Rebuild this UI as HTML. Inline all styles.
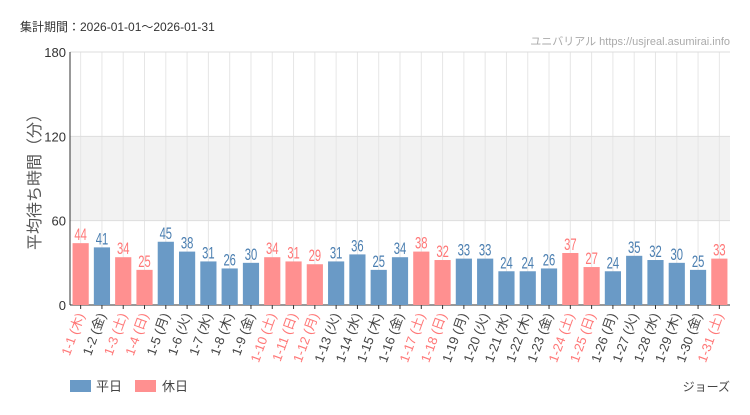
<!DOCTYPE html>
<html><head><meta charset="utf-8"><style>
body{margin:0;background:#fff;}
svg text{font-family:"Liberation Sans","Noto Sans CJK JP",sans-serif;}
</style></head><body>
<svg id="c" width="750" height="410" xmlns="http://www.w3.org/2000/svg">
<rect width="750" height="410" fill="#fff"/>
<text x="20" y="31" font-size="12" fill="#333">集計期間：2026-01-01～2026-01-31</text>
<text x="730" y="45" font-size="11" fill="#aaa" text-anchor="end">ユニバリアル  https://usjreal.asumirai.info</text>
<text transform="translate(40,178) rotate(-90)" font-size="16" fill="#555" text-anchor="middle">平均待ち時間（分）</text>
<g id="g"></g>
<rect x="70" y="380" width="21" height="12" fill="#6a9ac6"/>
<text x="96" y="391" font-size="13" fill="#444">平日</text>
<rect x="135" y="380" width="21" height="12" fill="#ff9090"/>
<text x="162" y="391" font-size="13" fill="#444">休日</text>
<text x="730" y="391" font-size="12" fill="#444" text-anchor="end">ジョーズ</text>
</svg>
<script>
const days=["1-1","1-2","1-3","1-4","1-5","1-6","1-7","1-8","1-9","1-10","1-11","1-12","1-13","1-14","1-15","1-16","1-17","1-18","1-19","1-20","1-21","1-22","1-23","1-24","1-25","1-26","1-27","1-28","1-29","1-30","1-31"];
const weekdays=["木","金","土","日","月","火","水","木","金","土","日","月","火","水","木","金","土","日","月","火","水","木","金","土","日","月","火","水","木","金","土"];
const values=[44,41,34,25,45,38,31,26,30,34,31,29,31,36,25,34,38,32,33,33,24,24,26,37,27,24,35,32,30,25,33];
const holiday=[1,0,1,1,0,0,0,0,0,1,1,1,0,0,0,0,1,1,0,0,0,0,0,1,1,0,0,0,0,0,1];
const yTicks=[0,60,120,180];
const NS="http://www.w3.org/2000/svg";
const L=70,R=730,T=52,B=305,MAX=180;
const y=v=>B-(B-T)*v/MAX;
const slot=(R-L)/days.length;
const xc=i=>L+slot*(i+0.5);
const g=document.getElementById('g');
function mk(t,a){const e=document.createElementNS(NS,t);for(const k in a)e.setAttribute(k,a[k]);g.appendChild(e);return e;}
let band=mk('rect',{x:L,y:y(120),width:R-L,height:y(60)-y(120),fill:'#f2f2f2'});


days.forEach((d,i)=>{let l=mk('line',{x1:xc(i),x2:xc(i),y1:T,y2:B,stroke:'#e6e6e6'});

});
yTicks.forEach(v=>{let l=mk('line',{x1:L,x2:R,y1:y(v),y2:y(v),stroke:v==0?'#333':'#ddd'});


let t=mk('text',{x:L-4,y:y(v)+5,'font-size':13,fill:'#333','text-anchor':'end'});t.textContent=v;

});
let ax=mk('line',{x1:L,x2:L,y1:T,y2:B,stroke:'#333'});


values.forEach((v,i)=>{const col=holiday[i]?'#ff9090':'#6a9ac6',tc=holiday[i]?'#ff7777':'#4a7eb0';
const w=slot*0.76;
let b=mk('rect',{x:xc(i)-w/2,y:y(v),width:w,height:B-y(v),fill:col});


let t=mk('text',{transform:`translate(${xc(i)},${y(v)-3}) scale(0.66,1)`,'font-size':17,fill:tc,'text-anchor':'middle'});t.textContent=v;


let tk=mk('line',{x1:xc(i),x2:xc(i),y1:B,y2:B+4,stroke:'#333'});


let xl=mk('text',{transform:`translate(${xc(i)+4},${B+10}) rotate(-70)`,'font-size':13,fill:holiday[i]?'#ff7777':'#444','text-anchor':'end'});
xl.textContent=days[i]+' ('+weekdays[i]+')';

});
</script>
</body></html>
